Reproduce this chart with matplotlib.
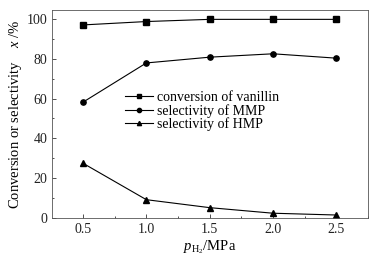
import numpy as np
import matplotlib.pyplot as plt
from matplotlib.ticker import MultipleLocator

plt.rcParams['font.family'] = ['Liberation Serif', 'DejaVu Serif']
plt.rcParams['mathtext.fontset'] = 'custom'
plt.rcParams['mathtext.rm'] = 'Liberation Serif'
plt.rcParams['mathtext.it'] = 'Liberation Serif:italic'

pressure = [0.5, 1.0, 1.5, 2.0, 2.5]
conv_vanillin = [97.0, 98.7, 99.8, 99.8, 99.8]
sel_mmp = [58.2, 77.9, 80.8, 82.5, 80.3]
sel_hmp = [27.5, 9.2, 5.2, 2.4, 1.5]

fig = plt.figure(figsize=(3.82, 2.60), dpi=100)
ax = fig.add_axes([52 / 382, 42 / 260, 316 / 382, 208 / 260])

ax.plot(pressure, conv_vanillin, 'k-s', lw=0.8, ms=3.8, label='conversion of vanillin')
ax.plot(pressure, sel_mmp, 'k-o', lw=0.8, ms=3.8, label='selectivity of MMP')
ax.plot(pressure, sel_hmp, 'k-^', lw=0.8, ms=3.8, label='selectivity of HMP')

ax.set_xlim(0.255, 2.75)
ax.set_ylim(0, 104.5)
ax.set_xticks(pressure)
ax.set_xticklabels(['0.5', '1.0', '1.5', '2.0', '2.5'])
ax.xaxis.set_minor_locator(MultipleLocator(0.25))
ax.set_yticks([0, 20, 40, 60, 80, 100])
ax.yaxis.set_minor_locator(MultipleLocator(10))
ax.tick_params(which='both', direction='in', labelsize=10, width=0.6, colors='#333333', labelcolor='#222222')
ax.tick_params(which='major', length=3)
ax.tick_params(which='minor', length=1.5)
for s in ax.spines.values():
    s.set_linewidth(0.6)
    s.set_color('#555555')

ax.set_xlabel(r'$p_{\mathrm{H_2}}$/MPa', fontsize=10.5, labelpad=2)
ax.set_ylabel(r'Conversion or selectivity    $x$ /%', fontsize=10.5, labelpad=2)

ax.legend(loc='upper left', bbox_to_anchor=(0.21, 0.645), frameon=False, fontsize=10,
          handlelength=2.0, handletextpad=0.3, labelspacing=0.0, borderpad=0, markerscale=0.8)

fig.savefig('out.png', dpi=100)
